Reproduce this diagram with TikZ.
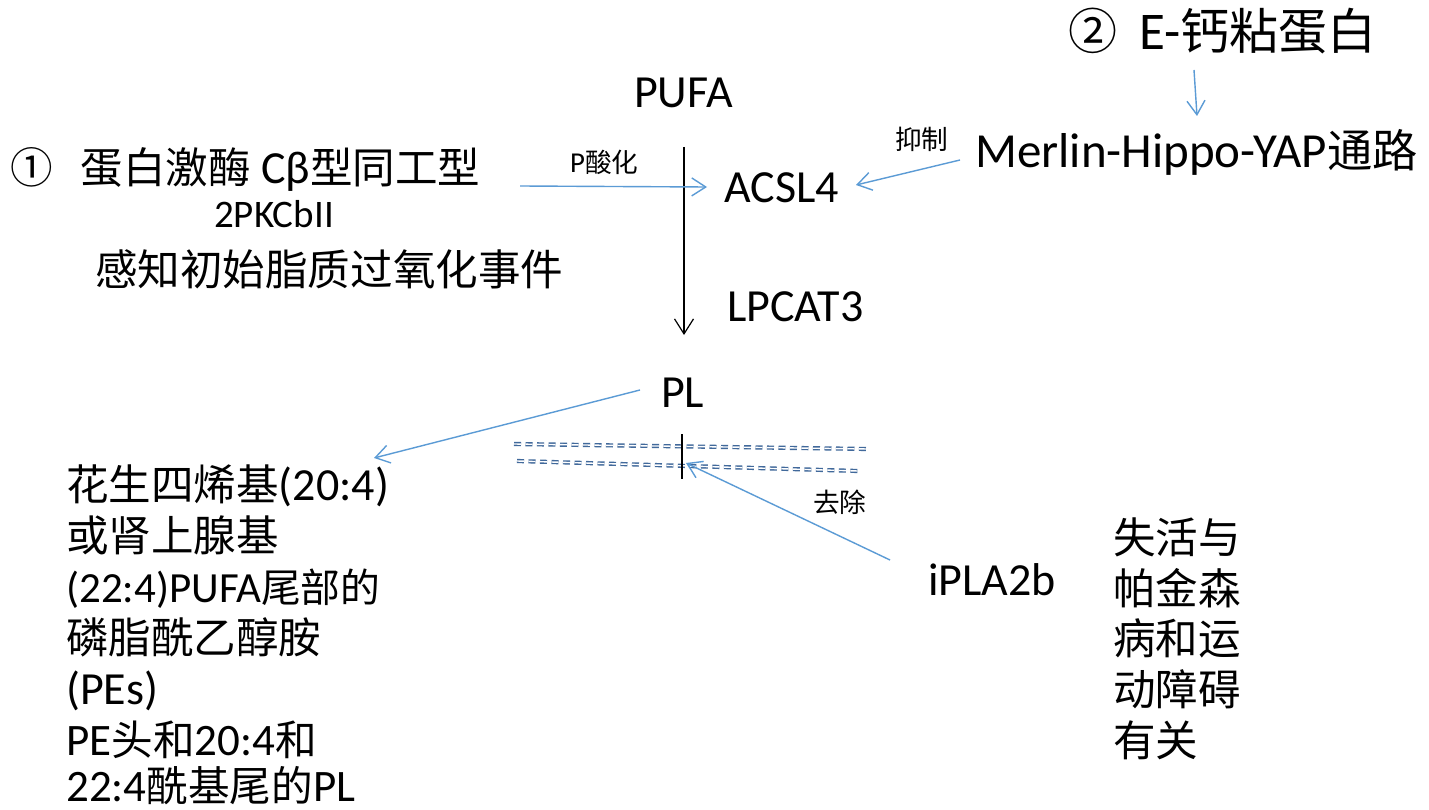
\documentclass[tikz,border=0pt]{standalone}
\usepackage{fontspec}
\setmainfont{Carlito}
\newfontfamily\cjkf[Scale=0.925]{Noto Sans CJK SC}
\usetikzlibrary{arrows.meta}
\definecolor{arrowblue}{RGB}{91,155,213}
\definecolor{dashblue}{RGB}{65,105,155}
\newcommand\zh[1]{{\cjkf #1}}
\begin{document}
\begin{tikzpicture}[x=1pt,y=-1pt,
  txt/.style={inner sep=0pt, anchor=base west, font=\fontsize{46}{50}\selectfont},
  smalltxt/.style={inner sep=0pt, anchor=base west, font=\fontsize{28.8}{32}\selectfont},
  midtxt/.style={inner sep=0pt, anchor=base west, font=\fontsize{39}{42}\selectfont},
  bigtxt/.style={inner sep=0pt, anchor=base west, font=\fontsize{53}{56}\selectfont},
  bluearrow/.style={draw=arrowblue, line width=1.4pt, -{Straight Barb[length=14pt,width=18pt,line width=1.4pt]}},
  blackarrow/.style={draw=black, line width=1.2pt, -{Straight Barb[length=15pt,width=19pt,line width=1.2pt]}},
  membrane/.style={draw=dashblue, line width=1.4pt, double=white, double distance=1.4pt, dash pattern=on 7pt off 4.5pt},
  tick/.style={draw=black, line width=1.6pt}
]
\fill[white] (0,0) rectangle (1429,810);
\useasboundingbox (0,0) rectangle (1429,810);

% main column
\node[txt] (pufa) at (634,108) {PUFA};
\node[txt] (acsl4) at (724,203) {ACSL4};
\node[txt] (lpcat3) at (727,321) {LPCAT3};
\node[txt] (pl) at (661,407) {PL};
\node[smalltxt] (pacid) at (570,173) {P\zh{酸化}};
\node[smalltxt] (inhibit) at (895,150) {\zh{抑制}};
\node[smalltxt] (remove) at (813,512) {\zh{去除}};

% left top
\node[txt] (pkc) at (10,184) {\zh{①}\hspace{28pt}\zh{蛋白激酶} Cβ\zh{型同工型}};
\node[midtxt] (pkcb) at (214,228) {2PKCbII};
\node[txt] (sense) at (95,285) {\zh{感知初始脂质过氧化事件}};

% right top
\node[bigtxt] (ecad) at (1068,50) {\zh{②}\hspace{22pt}E-\zh{钙粘蛋白}};
\node[txt, font=\fontsize{49}{52}\selectfont] (merlin) at (975,168) {Merlin-Hippo-YAP\zh{通路}};

% lower right
\node[txt] (ipla) at (928,595) {iPLA2b};
\node[txt] (r1) at (1113,553) {\zh{失活与}};
\node[txt] (r2) at (1113,604) {\zh{帕金森}};
\node[txt] (r3) at (1113,654) {\zh{病和运}};
\node[txt] (r4) at (1113,705) {\zh{动障碍}};
\node[txt] (r5) at (1113,756) {\zh{有关}};

% lower left
\node[txt] (l1) at (66,500) {\zh{花生四烯基}(20:4)};
\node[txt] (l2) at (66,551) {\zh{或肾上腺基}};
\node[txt, font=\fontsize{43}{46}\selectfont] (l3) at (66,602) {(22:4)PUFA\zh{尾部的}};
\node[txt] (l4) at (66,653) {\zh{磷脂酰乙醇胺}};
\node[txt] (l5) at (66,704) {(PEs)};
\node[txt, font=\fontsize{45}{48}\selectfont] (l6) at (66,755) {PE\zh{头和}20:4\zh{和}};
\node[txt, font=\fontsize{45}{48}\selectfont] (l7) at (66,801) {22:4\zh{酰基尾的}PL};

% connector end points
\coordinate (vs) at (684,147);
\coordinate (ve) at (684,335);
\coordinate (pkcs) at (520,186);
\coordinate (pkce) at (707,187);
\coordinate (mers) at (960,160);
\coordinate (mere) at (856,185);
\coordinate (ecs) at (1194,70);
\coordinate (ece) at (1197,116);
\coordinate (pls) at (640,390);
\coordinate (ple) at (374,458);
\coordinate (ips) at (890,560);
\coordinate (ipe) at (686,463);
\coordinate (m1s) at (514,444);
\coordinate (m1e) at (868,449);
\coordinate (m2s) at (517,461);
\coordinate (m2e) at (858,471);
\coordinate (tks) at (682,434);
\coordinate (tke) at (682,479);

% membrane
\draw[membrane] (m1s) -- (m1e);
\draw[membrane] (m2s) -- (m2e);
\draw[tick] (tks) -- (tke);

% arrows
\draw[blackarrow] (vs) -- (ve);
\draw[bluearrow] (pkcs) -- (pkce);
\draw[bluearrow] (mers) -- (mere);
\draw[bluearrow] (ecs) -- (ece);
\draw[bluearrow] (pls) -- (ple);
\draw[bluearrow] (ips) -- (ipe);
\end{tikzpicture}
\end{document}
